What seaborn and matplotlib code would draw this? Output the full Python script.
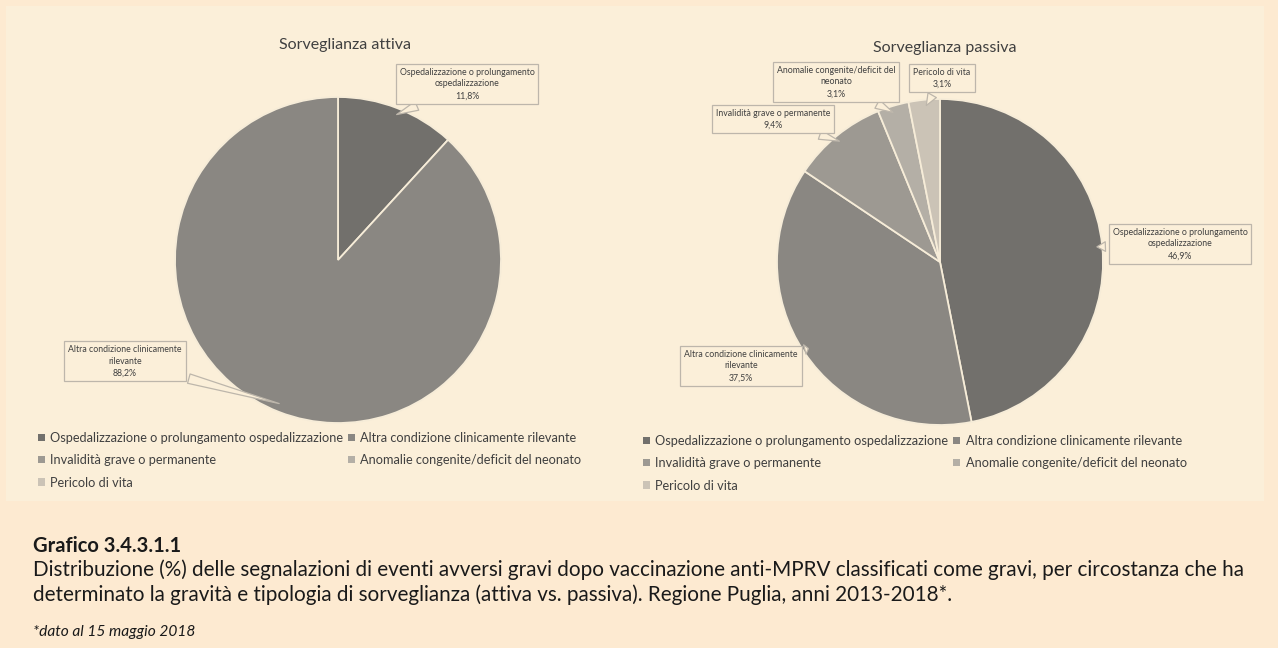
import matplotlib.pyplot as plt
import seaborn as sns
import numpy as np
from matplotlib.patches import Rectangle, Patch

sns.set_style("white")
plt.rcParams['font.family'] = ['Lato', 'DejaVu Sans']

categories = ['Ospedalizzazione o prolungamento ospedalizzazione',
              'Altra condizione clinicamente rilevante',
              'Invalidità grave o permanente',
              'Anomalie congenite/deficit del neonato',
              'Pericolo di vita']
box_labels = ['Ospedalizzazione o prolungamento\nospedalizzazione',
              'Altra condizione clinicamente\nrilevante',
              'Invalidità grave o permanente',
              'Anomalie congenite/deficit del\nneonato',
              'Pericolo di vita']
attiva = [11.8, 88.2, 0, 0, 0]
passiva = [46.9, 37.5, 9.4, 3.1, 3.1]
colors = ['#72706c', '#8a8782', '#9d9992', '#b4afa6', '#cbc3b6']

BG_OUT = '#fdead1'
BG_IN = '#fbefd9'
EDGE = '#f6ecd8'
W, H = 1278, 648

fig = plt.figure(figsize=(W / 100, H / 100), dpi=100)
fig.patch.set_facecolor(BG_OUT)
fig.patches.append(Rectangle((6 / W, 1 - 501 / H), 1258 / W, 495 / H,
                             transform=fig.transFigure, facecolor=BG_IN,
                             edgecolor='none', zorder=-10))


def fx(x):
    return x / W


def fy(y):
    return 1 - y / H


def draw_pie(cx, cy, r, values, title, title_xy, label_pos):
    ax = fig.add_axes([fx(cx - r), fy(cy + r), 2 * r / W, 2 * r / H])
    ax.set_facecolor('none')
    idx = [i for i, v in enumerate(values) if v > 0]
    wedges, _ = ax.pie([values[i] for i in idx], colors=[colors[i] for i in idx],
                       startangle=90, counterclock=False, radius=1,
                       wedgeprops=dict(edgecolor=EDGE, linewidth=1.3))
    ax.set_xlim(-1, 1)
    ax.set_ylim(-1, 1)
    ax.axis('off')
    for w, i in zip(wedges, idx):
        mid = np.deg2rad((w.theta1 + w.theta2) / 2)
        tip = (0.95 * np.cos(mid), 0.95 * np.sin(mid))
        tx, ty = label_pos[i]
        txt = f"{box_labels[i]}\n{values[i]:.1f}%".replace('.', ',')
        ax.annotate(txt, xy=tip, xycoords='data', xytext=(fx(tx), fy(ty)),
                    textcoords='figure fraction', ha='center', va='center',
                    fontsize=6.3, color='#404040', linespacing=1.4,
                    bbox=dict(boxstyle='square,pad=0.45', fc=BG_IN, ec='#bdb6ab', lw=0.9),
                    arrowprops=dict(arrowstyle='wedge,tail_width=1.1,shrink_factor=0.5',
                                    fc=BG_IN, ec='#bdb6ab', lw=0.9),
                    annotation_clip=False)
    fig.text(fx(title_xy[0]), fy(title_xy[1]), title, ha='center', va='center',
             fontsize=11.5, color='#404040')


draw_pie(338, 260, 163, attiva, 'Sorveglianza attiva', (345, 45),
         {0: (467, 84), 1: (125, 361)})
draw_pie(940, 262, 163, passiva, 'Sorveglianza passiva', (945, 48),
         {0: (1180, 244), 1: (741, 366), 2: (773, 119), 3: (836, 82), 4: (942, 78)})

# legends, row-wise order
order = [0, 2, 4, 1, 3]
handles = [Patch(facecolor=colors[i], edgecolor='none') for i in order]
labels = [categories[i] for i in order]
for lx, ly in [(33, 427), (638, 430)]:
    fig.legend(handles, labels, loc='upper left', bbox_to_anchor=(fx(lx), fy(ly)),
               ncol=2, frameon=False, fontsize=9.2, handlelength=0.5, handleheight=0.5,
               handletextpad=0.45, columnspacing=0.4, labelspacing=0.8,
               labelcolor='#404040', borderaxespad=0)

# caption
fig.text(fx(33), fy(546), 'Grafico 3.4.3.1.1', fontsize=14.5, fontweight='bold',
         color='#1a1a1a', va='center', ha='left')
fig.text(fx(33), fy(582),
         'Distribuzione (%) delle segnalazioni di eventi avversi gravi dopo vaccinazione anti-MPRV classificati come gravi, per circostanza che ha\n'
         'determinato la gravità e tipologia di sorveglianza (attiva vs. passiva). Regione Puglia, anni 2013-2018*.',
         fontsize=14.9, color='#1a1a1a', va='center', ha='left', linespacing=1.25)
fig.text(fx(33), fy(632), '*dato al 15 maggio 2018', fontsize=11.2, style='italic',
         color='#1a1a1a', va='center', ha='left')

fig.savefig('out.png', dpi=100, facecolor=fig.get_facecolor())
